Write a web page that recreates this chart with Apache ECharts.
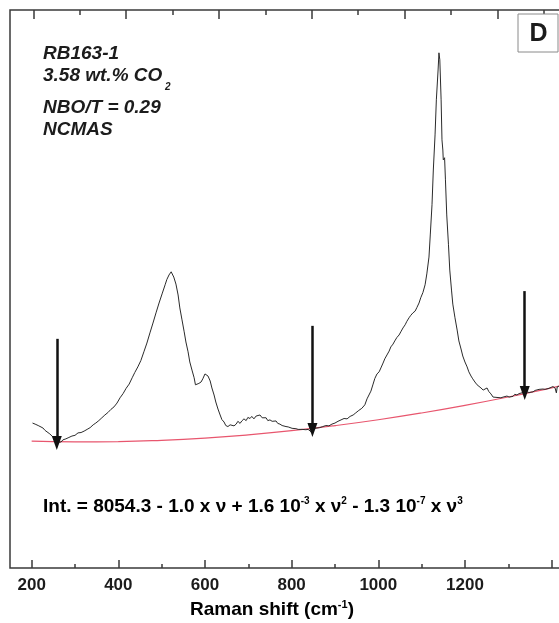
<!DOCTYPE html>
<html>
<head>
<meta charset="utf-8">
<title>RB163-1 Raman spectrum</title>
<script src="https://cdn.jsdelivr.net/npm/echarts@6/dist/echarts.min.js"></script>
<style>
  html, body { margin: 0; padding: 0; background: #fff; }
  #chart { width: 559px; height: 623px; }
</style>
</head>
<body>
<div id="chart"></div>
<script>
// Raman spectrum of sample RB163-1 (wavenumber in cm-1, intensity in counts)
const wavenumber = [
  202, 208, 215, 219, 226, 231, 235, 242, 247, 252, 256, 260, 263, 268, 272, 279, 286, 293, 300, 307,
  314, 321, 328, 335, 342, 348, 355, 362, 369, 376, 383, 390, 397, 404, 411, 418, 425, 432, 438, 445,
  452, 459, 466, 473, 480, 487, 494, 501, 508, 512, 517, 522, 525, 528, 533, 538, 542, 547, 552, 556,
  561, 565, 570, 575, 578, 582, 586, 591, 595, 600, 603, 607, 612, 616, 621, 625, 630, 635, 639, 644,
  648, 653, 658, 662, 667, 672, 676, 681, 685, 690, 695, 699, 704, 708, 713, 718, 722, 727, 732, 736,
  741, 745, 750, 755, 759, 764, 768, 773, 778, 782, 787, 792, 796, 801, 805, 810, 815, 819, 824, 828,
  833, 838, 842, 846, 849, 854, 858, 865, 872, 879, 886, 893, 900, 907, 914, 921, 928, 935, 942, 948,
  955, 962, 969, 974, 978, 983, 988, 992, 997, 1002, 1006, 1011, 1015, 1020, 1025, 1029, 1034, 1038, 1043, 1048,
  1052, 1057, 1062, 1066, 1071, 1075, 1080, 1085, 1089, 1094, 1098, 1103, 1108, 1112, 1117, 1120, 1124, 1127, 1131, 1134,
  1138, 1140, 1142, 1145, 1147, 1149, 1150, 1153, 1155, 1158, 1162, 1165, 1169, 1172, 1177, 1182, 1186, 1191, 1195, 1200,
  1205, 1209, 1214, 1218, 1223, 1228, 1232, 1237, 1242, 1246, 1251, 1255, 1260, 1265, 1269, 1274, 1278, 1283, 1288, 1292,
  1297, 1302, 1306, 1311, 1315, 1320, 1325, 1329, 1334, 1338, 1343, 1348, 1352, 1357, 1362, 1366, 1371, 1375, 1380, 1385,
  1389, 1394, 1398, 1403, 1408, 1411, 1413, 1417, 1424
];
const intensity = [
  8430, 8400, 8360, 8330, 8290, 8220, 8190, 8120, 8060, 8000, 7950, 7880, 7910, 7890, 7950, 7980, 8020, 8060, 8080, 8150,
  8160, 8200, 8250, 8300, 8380, 8430, 8500, 8580, 8660, 8730, 8820, 8890, 9000, 9150, 9270, 9420, 9540, 9720, 9870, 10030,
  10210, 10460, 10710, 11000, 11280, 11570, 11850, 12110, 12370, 12520, 12650, 12740, 12710, 12590, 12390, 12080, 11710, 11370, 11030, 10740,
  10460, 10170, 9940, 9720, 9520, 9490, 9560, 9600, 9690, 9830, 9870, 9770, 9630, 9430, 9230, 9030, 8830, 8660, 8530, 8460,
  8360, 8330, 8380, 8420, 8350, 8400, 8480, 8420, 8490, 8550, 8500, 8590, 8560, 8620, 8550, 8630, 8600, 8660, 8580, 8550,
  8580, 8500, 8520, 8480, 8460, 8490, 8420, 8400, 8360, 8380, 8330, 8320, 8300, 8280, 8290, 8270, 8250, 8280, 8250, 8260,
  8240, 8250, 8220, 8170, 8260, 8280, 8280, 8300, 8330, 8360, 8350, 8400, 8430, 8480, 8520, 8560, 8550, 8620, 8660, 8720,
  8790, 8850, 8950, 9120, 9170, 9340, 9540, 9700, 9830, 9890, 10000, 10140, 10260, 10370, 10480, 10600, 10680, 10770, 10870, 10940,
  11030, 11140, 11230, 11330, 11430, 11500, 11570, 11620, 11720, 11850, 12000, 12150, 12370, 12680, 13160, 13790, 14650, 15640, 16640, 17640,
  18490, 18980, 18780, 17640, 16500, 16210, 15930, 15990, 15360, 14360, 13510, 12790, 12220, 11820, 11430, 11080, 10770, 10540, 10340, 10170,
  10030, 9890, 9770, 9690, 9600, 9520, 9470, 9430, 9370, 9400, 9430, 9330, 9260, 9170, 9150, 9160, 9120, 9150, 9170, 9150,
  9200, 9170, 9220, 9190, 9250, 9230, 9270, 9260, 9300, 9290, 9320, 9300, 9340, 9320, 9360, 9340, 9390, 9370, 9400, 9390,
  9430, 9420, 9440, 9470, 9430, 9290, 9460, 9500, 9520
];

// Cubic background: Int. = 8054.3 - 1.0 v + 1.6e-3 v^2 - 1.3e-7 v^3
const baselineX = [200, 300, 400, 500, 600, 700, 800, 900, 1000, 1100, 1200, 1300, 1400, 1424];
const baselineY = [7917, 7895, 7902, 7938, 8002, 8094, 8212, 8356, 8524, 8717, 8934, 9173, 9434, 9499];

// Anchor points chosen for the background fit
const arrowX = [258, 848, 1338];
const arrowTop = [10830, 11200, 12190];
const arrowTip = [7860, 8230, 9290];

// Labelled wavenumber ticks
const tickLabels = [200, 400, 600, 800, 1000, 1200];

const xMin = 0, xMax = 1424, xStep = 200;
const yMin = 4300, yMax = 20200;

const FONT = "'Liberation Sans', Arial, sans-serif";
const INK = '#1c1c1c';
const FRAME = '#3a3a3a';

const spectrum = wavenumber.map((v, i) => [v, intensity[i]]);
const baseline = baselineX.map((v, i) => [v, baselineY[i]]);
const arrows = arrowX.map((v, i) => [{ coord: [v, arrowTop[i]] }, { coord: [v, arrowTip[i]] }]);

const chart = echarts.init(document.getElementById('chart'), null, { renderer: 'canvas' });

chart.setOption({
  animation: false,
  backgroundColor: '#fff',
  grid: [
    // plotting area (extends past the left frame so that 0 sits off-canvas)
    { left: -55, right: -3, top: 10, bottom: 55, show: false, outerBoundsMode: 'none', containLabel: false },
    // visible frame
    { left: 10, right: -3, top: 10, bottom: 55, show: true, borderColor: FRAME, borderWidth: 1.5, backgroundColor: 'transparent', outerBoundsMode: 'none', containLabel: false },
    // top tick row
    { left: -59.5, right: -3, top: 10, bottom: 55, show: false, outerBoundsMode: 'none', containLabel: false }
  ],
  xAxis: [
    {
      gridIndex: 0, type: 'value', position: 'bottom',
      min: xMin, max: xMax, interval: xStep,
      axisLine: { show: false, onZero: false },
      axisTick: { show: true, inside: true, length: 8, lineStyle: { color: FRAME, width: 1.5 } },
      minorTick: { show: true, splitNumber: 2, length: 4, lineStyle: { color: FRAME, width: 1.5 } },
      splitLine: { show: false },
      axisLabel: {
        show: true, margin: 9, color: INK, fontFamily: FONT, fontWeight: 'bold', fontSize: 17,
        formatter: (v) => (tickLabels.indexOf(v) >= 0 ? String(v) : '')
      }
    },
    {
      gridIndex: 1, type: 'value', min: 0, max: 1, show: false,
      axisLine: { onZero: false }
    },
    {
      gridIndex: 2, type: 'value', position: 'top',
      min: 0, max: 1339.4, interval: 200,
      axisLine: { show: false, onZero: false },
      axisTick: { show: true, inside: true, length: 9, lineStyle: { color: FRAME, width: 1.5 } },
      minorTick: { show: true, splitNumber: 2, length: 5, lineStyle: { color: FRAME, width: 1.5 } },
      splitLine: { show: false },
      axisLabel: { show: false }
    }
  ],
  yAxis: [
    { gridIndex: 0, type: 'value', min: yMin, max: yMax, show: false, axisLine: { onZero: false } },
    { gridIndex: 1, type: 'value', min: 0, max: 1, show: false, axisLine: { onZero: false } },
    { gridIndex: 2, type: 'value', min: 0, max: 1, show: false, axisLine: { onZero: false } }
  ],
  series: [
    {
      name: 'background',
      type: 'line',
      xAxisIndex: 0, yAxisIndex: 0,
      data: baseline,
      smooth: true,
      showSymbol: false,
      lineStyle: { color: '#e8566e', width: 1.2 },
      z: 2
    },
    {
      name: 'spectrum',
      type: 'line',
      xAxisIndex: 0, yAxisIndex: 0,
      data: spectrum,
      showSymbol: false,
      lineStyle: { color: '#2b2b2b', width: 1 },
      z: 3,
      markLine: {
        silent: true,
        symbol: ['none', 'triangle'],
        symbolSize: [10, 14],
        label: { show: false },
        lineStyle: { color: '#111', width: 2.5, type: 'solid' },
        data: arrows
      }
    }
  ],
  graphic: [
    { type: 'text', x: 43, y: 54, style: { text: 'RB163-1', font: 'italic bold 19px ' + FONT, fill: INK, verticalAlign: 'middle' } },
    { type: 'text', x: 43, y: 76, style: { text: '3.58 wt.% CO', font: 'italic bold 19px ' + FONT, fill: INK, verticalAlign: 'middle' } },
    { type: 'text', x: 165, y: 87, style: { text: '2', font: 'italic bold 10px ' + FONT, fill: INK, verticalAlign: 'middle' } },
    { type: 'text', x: 43, y: 108, style: { text: 'NBO/T = 0.29', font: 'italic bold 19px ' + FONT, fill: INK, verticalAlign: 'middle' } },
    { type: 'text', x: 43, y: 130, style: { text: 'NCMAS', font: 'italic bold 19px ' + FONT, fill: INK, verticalAlign: 'middle' } },
    {
      type: 'text', x: 43, y: 507,
      style: {
        text: '{m|Int. = 8054.3 - 1.0 x ν + 1.6 10}{s|-3}{m| x ν}{s|2}{m| - 1.3 10}{s|-7}{m| x ν}{s|3}',
        verticalAlign: 'middle',
        rich: {
          m: { fontFamily: FONT, fontWeight: 'bold', fontSize: 19, lineHeight: 22, color: INK },
          s: { fontFamily: FONT, fontWeight: 'bold', fontSize: 10, lineHeight: 12, color: INK, verticalAlign: 'top' }
        }
      }
    },
    {
      type: 'text', x: 272, y: 610,
      style: {
        text: '{m|Raman shift (cm}{s|-1}{m|)}',
        align: 'center', verticalAlign: 'middle',
        rich: {
          m: { fontFamily: FONT, fontWeight: 'bold', fontSize: 19, lineHeight: 22, color: INK },
          s: { fontFamily: FONT, fontWeight: 'bold', fontSize: 11, lineHeight: 12, color: INK, verticalAlign: 'top' }
        }
      }
    },
    { type: 'rect', shape: { x: 518, y: 14, width: 40, height: 38 }, style: { fill: '#fff', stroke: '#8a8a8a', lineWidth: 1 }, z: 10 },
    { type: 'text', x: 538.5, y: 34, z: 11, style: { text: 'D', font: 'bold 25px ' + FONT, fill: INK, align: 'center', verticalAlign: 'middle' } }
  ]
});
</script>
</body>
</html>
